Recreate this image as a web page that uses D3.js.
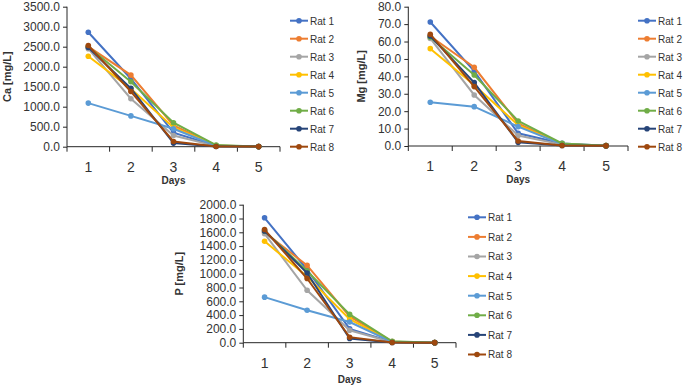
<!DOCTYPE html>
<html>
<head>
<meta charset="utf-8">
<script src="https://cdn.jsdelivr.net/npm/d3@7"></script>
<style>
  body { margin: 0; background: #fff; }
  svg { display: block; font-family: "Liberation Sans", Arial, sans-serif; }
</style>
</head>
<body>
<svg id="chart" width="685" height="388"></svg>
<script>
// Categories / series
const days = ['1', '2', '3', '4', '5'];
const rats = ['Rat 1', 'Rat 2', 'Rat 3', 'Rat 4', 'Rat 5', 'Rat 6', 'Rat 7', 'Rat 8'];
const ratColors = ['#4472C4', '#ED7D31', '#A5A5A5', '#FFC000', '#5B9BD5', '#70AD47', '#264478', '#9E480E'];

// Ca [mg/L], one row per rat, days 1..5
const caValues = [
    [2860, 1700, 350, 20, 2],
    [2500, 1790, 530, 30, 2],
    [2450, 1200, 280, 15, 2],
    [2260, 1450, 480, 25, 2],
    [1090, 770, 450, 20, 2],
    [2500, 1625, 600, 40, 2],
    [2480, 1460, 90, 5, 2],
    [2530, 1380, 130, 5, 2]
];
const caTicks = [0, 500, 1000, 1500, 2000, 2500, 3000, 3500];

// Mg [mg/L]
const mgValues = [
    [71.2, 43.0, 7.3, 1.5, 0.2],
    [63.0, 45.2, 13.0, 1.0, 0.2],
    [61.8, 29.3, 6.0, 0.8, 0.2],
    [55.9, 35.0, 12.0, 1.0, 0.2],
    [25.1, 22.6, 11.1, 1.0, 0.2],
    [62.5, 40.8, 14.4, 1.5, 0.2],
    [63.2, 36.4, 2.1, 0.3, 0.1],
    [64.2, 34.1, 2.9, 0.3, 0.1]
];
const mgTicks = [0, 10, 20, 30, 40, 50, 60, 70, 80];

// P [mg/L]
const pValues = [
    [1810, 1060, 200, 10, 1],
    [1600, 1120, 380, 15, 1],
    [1580, 760, 180, 8, 1],
    [1470, 960, 340, 12, 1],
    [660, 470, 300, 10, 1],
    [1620, 1040, 410, 20, 1],
    [1620, 1010, 60, 3, 1],
    [1640, 930, 80, 3, 1]
];
const pTicks = [0, 200, 400, 600, 800, 1000, 1200, 1400, 1600, 1800, 2000];

const svg = d3.select('#chart');

/**
 * @function drawChart
 */
function drawChart(cfg) {
    const g = svg.append('g');

    // Scales
    const x = d3.scaleBand().domain(days).range([cfg.x0, cfg.x1]).padding(0);
    const y = d3.scaleLinear().domain([0, cfg.ticks[cfg.ticks.length - 1]]).range([cfg.y0, cfg.y1]);

    // Y axis
    const yAxis = g.append('g')
        .attr('transform', `translate(${cfg.x0},0)`)
        .call(d3.axisLeft(y).tickValues(cfg.ticks).tickFormat(d3.format('.1f')).tickSize(4).tickPadding(3));
    yAxis.selectAll('text').attr('font-size', 12).attr('fill', '#333').attr('font-family', null);
    yAxis.select('.domain').remove();
    yAxis.append('line')
        .attr('y1', cfg.y1).attr('y2', cfg.y0)
        .attr('stroke', '#262626');
    yAxis.selectAll('.tick line').attr('stroke', '#262626');

    // X axis: ticks between categories, labels at centres
    const xAxis = g.append('g').attr('transform', `translate(0,${cfg.y0})`);
    xAxis.append('line')
        .attr('x1', cfg.x0).attr('x2', cfg.x1)
        .attr('stroke', '#262626');
    const bounds = days.map(d => x(d)).concat([cfg.x1]);
    xAxis.selectAll('.xtick').data(bounds).join('line')
        .attr('class', 'xtick')
        .attr('x1', d => d).attr('x2', d => d)
        .attr('y1', 0).attr('y2', 5)
        .attr('stroke', '#262626');
    xAxis.selectAll('.xlab').data(days).join('text')
        .attr('class', 'xlab')
        .attr('x', d => x(d) + x.bandwidth() / 2)
        .attr('y', 25)
        .attr('text-anchor', 'middle')
        .attr('font-size', 14)
        .attr('fill', '#333')
        .text(d => d);

    // Axis titles
    g.append('text')
        .attr('x', (cfg.x0 + cfg.x1) / 2)
        .attr('y', cfg.y0 + cfg.daysDy)
        .attr('text-anchor', 'middle')
        .attr('font-size', 10)
        .attr('font-weight', 'bold')
        .attr('fill', '#333')
        .text('Days');
    g.append('text')
        .attr('transform', `translate(${cfg.labelX},${(cfg.y0 + cfg.y1) / 2}) rotate(-90)`)
        .attr('text-anchor', 'middle')
        .attr('dominant-baseline', 'middle')
        .attr('font-size', 11)
        .attr('font-weight', 'bold')
        .attr('fill', '#333')
        .text(cfg.label);

    // Lines + markers
    const line = d3.line()
        .x((d, i) => x(days[i]) + x.bandwidth() / 2)
        .y(d => y(d));
    const series = g.selectAll('.series').data(cfg.values).join('g')
        .attr('class', 'series');
    series.append('path')
        .attr('d', d => line(d))
        .attr('fill', 'none')
        .attr('stroke', (d, i) => ratColors[i])
        .attr('stroke-width', 2);
    series.each(function(vals, i) {
        d3.select(this).selectAll('circle').data(vals).join('circle')
            .attr('cx', (d, j) => x(days[j]) + x.bandwidth() / 2)
            .attr('cy', d => y(d))
            .attr('r', 2.8)
            .attr('fill', ratColors[i]);
    });

    // Legend
    const leg = g.append('g').attr('transform', `translate(${cfg.legX},${cfg.legY})`);
    const item = leg.selectAll('.item').data(rats).join('g')
        .attr('class', 'item')
        .attr('transform', (d, i) => `translate(0,${i * cfg.legStep})`);
    item.append('line')
        .attr('x1', 0).attr('x2', 18)
        .attr('stroke', (d, i) => ratColors[i])
        .attr('stroke-width', 2);
    item.append('circle')
        .attr('cx', 9).attr('r', 2.8)
        .attr('fill', (d, i) => ratColors[i]);
    item.append('text')
        .attr('x', 20)
        .attr('dy', '0.35em')
        .attr('font-size', 11)
        .attr('textLength', 24)
        .attr('lengthAdjust', 'spacingAndGlyphs')
        .attr('fill', '#333')
        .text(d => d);
}

drawChart({
    values: caValues, ticks: caTicks, label: 'Ca [mg/L]',
    x0: 67, x1: 280, y0: 146.7, y1: 6.7, labelX: 8, daysDy: 37,
    legX: 290, legY: 20.7, legStep: 18
});
drawChart({
    values: mgValues, ticks: mgTicks, label: 'Mg [mg/L]',
    x0: 408.3, x1: 628, y0: 146, y1: 6.7, labelX: 362, daysDy: 37,
    legX: 638, legY: 20.7, legStep: 18
});
drawChart({
    values: pValues, ticks: pTicks, label: 'P [mg/L]',
    x0: 243.3, x1: 456, y0: 342.7, y1: 204.7, labelX: 180, daysDy: 40,
    legX: 468, legY: 217.3, legStep: 19.6
});
</script>
</body>
</html>
